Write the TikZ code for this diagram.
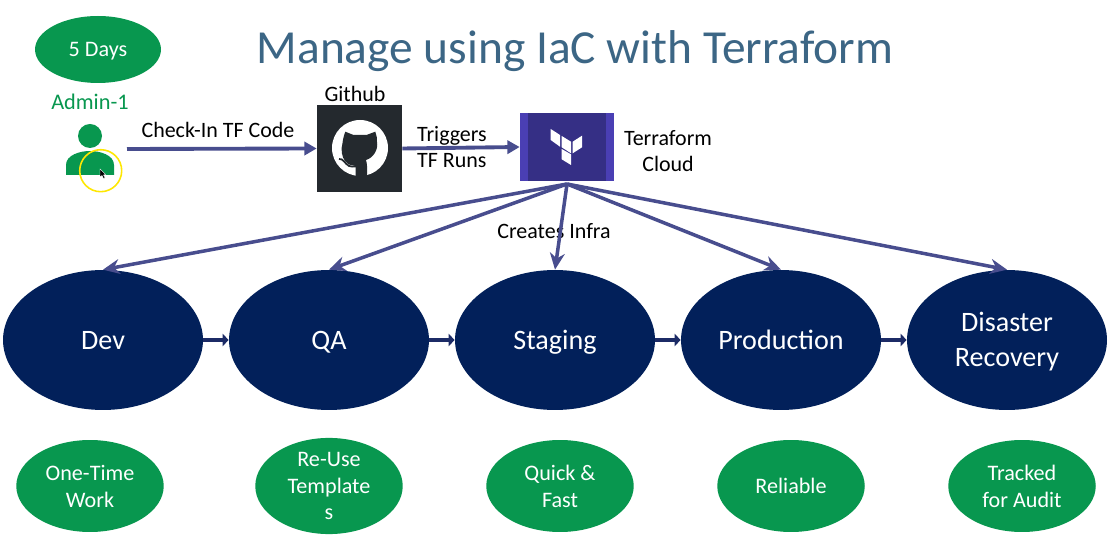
\documentclass[tikz,border=0pt]{standalone}
\usepackage{fontspec}
\setmainfont{Carlito}
\usepackage{xcolor}
\usetikzlibrary{arrows.meta,shapes.geometric}
\definecolor{envnavy}{HTML}{02205A}
\definecolor{notegreen}{HTML}{08974F}
\definecolor{flowblue}{HTML}{484D8E}
\definecolor{stepnavy}{HTML}{1C2B66}
\definecolor{titleblue}{HTML}{3C6685}
\definecolor{tfband}{HTML}{4A3FB4}
\definecolor{tfcore}{HTML}{352F85}
\definecolor{gitdark}{HTML}{24292E}
\tikzset{
  envnode/.style={ellipse,fill=envnavy,text=white,minimum width=4cm,minimum height=2.8cm,inner sep=0pt,align=center,text depth=0.8pt,font=\fontsize{16}{20.4}\selectfont},
  envone/.style={envnode,text height=14pt,text depth=2.8pt},
  notenode/.style={ellipse,fill=notegreen,text=white,minimum width=2.95cm,minimum height=1.84cm,inner sep=0pt,align=center,text depth=-1.2pt,font=\fontsize{12.6}{15.3}\selectfont},
  noteone/.style={notenode,text depth=0pt},
  lbl/.style={text=black,inner sep=0pt,align=center,font=\fontsize{12.5}{14.7}\selectfont},
  flowline/.style={flowblue,line width=2.2pt,-{Triangle[length=7pt,width=7.5pt]}},
  fanline/.style={flowblue,line width=2pt,-{Stealth[length=9.5pt,width=8.5pt]}},
  stepline/.style={stepnavy,line width=2.6pt,-{Triangle[length=3.5pt,width=7pt]}},
}
\begin{document}
\begin{tikzpicture}[x=0.02cm,y=-0.02cm]
    \useasboundingbox (0,0) rectangle (1111,546);
    \node[text=titleblue,inner sep=0pt,font=\fontsize{27}{30}\selectfont] (title) at (575,51) {Manage using IaC with Terraform};
    \node[noteone,minimum width=2.52cm,minimum height=1.34cm] (days) at (98,49.5) {5 Days};
    \node[lbl,text=notegreen,font=\fontsize{12.7}{15}\selectfont] (admin) at (90,102) {Admin-1};
    % person
    \fill[notegreen] (90,136) circle (12);
    \fill[notegreen] (66,175)--(66,165) .. controls (66,155) and (80,151) .. (90,151) .. controls (100,151) and (114,155) .. (114,165)--(114,175)--cycle;
    \draw[yellow!90!orange,line width=0.9pt] (100.7,170.7) circle (21);
    \fill[black,draw=white,line width=0.2pt] (100,169)--(100,177)--(102,175.5)--(103.5,178.5)--(105,178)--(103.5,175)--(105.5,174.5)--cycle;
    \coordinate (adminout) at (127,149);
    % github
    \node[fill=gitdark,minimum width=1.7cm,minimum height=1.74cm,inner sep=0pt] (github) at (359.5,148.5) {};
    \fill[white] (360,148) circle (28);
    \fill[gitdark] (345.3,131.7)--(353.5,135)--(366.5,135)--(375.3,131.7) .. controls (376.5,136) and (377.5,139) .. (377,142)
      .. controls (378.5,150) and (373,158) .. (366,160)
      .. controls (366.5,162) and (367,164) .. (367,166)--(367,176) .. controls (363,176.5) and (358,176.5) .. (355.5,176)
      --(355.5,166) .. controls (352,165) and (349,166) .. (345,161) .. controls (342,157) and (340.5,150) .. (342.5,143)
      .. controls (343,139) and (344,135) .. (345.3,131.7)--cycle;
    \draw[gitdark,line width=1pt] (339,159) .. controls (343,158) and (345,164) .. (349,166) .. controls (351,167) and (353,166.5) .. (356,166.5);
    \node[lbl] (gitlabel) at (355,94) {Github};
    % terraform cloud
    \node[fill=tfcore,draw=none,minimum width=1.88cm,minimum height=1.36cm,inner sep=0pt] (tfcloud) at (567,147) {};
    \fill[tfband] (520,113) rectangle (528,181);
    \fill[tfband] (606,113) rectangle (614,181);
    \fill[white] (550.7,129)--(560,135)--(560,146.7)--(550.7,140)--cycle;
    \fill[white] (561.7,136)--(571,141.7)--(571,153.3)--(561.7,147.3)--cycle;
    \fill[white] (572.7,141.7)--(582,135.7)--(582,147.3)--(572.7,153.3)--cycle;
    \fill[white] (561.7,149)--(571,154.3)--(571,165)--(561.7,159.3)--cycle;
    \node[lbl] (tflabel) at (668,151) {Terraform\\Cloud};
    \coordinate (tfout) at (567,184);
    % top row
    \node[lbl] (checkin) at (218,130) {Check-In TF Code};
    \draw[flowline] (adminout)--(github.west);
    \node[lbl,align=left] (triggers) at (452,147) {Triggers\\TF Runs};
    \draw[flowline] (github.east)--(tfcloud.west);
    \node[lbl] (creates) at (554,231) {Creates Infra};
    % environments
    \node[envone] (dev) at (103,340) {Dev};
    \node[envone] (qa) at (329,340) {QA};
    \node[envone] (staging) at (555,340) {Staging};
    \node[envone] (prod) at (781,340) {Production};
    \node[envnode] (dr) at (1007,340) {Disaster\\Recovery};
    \foreach \a/\b in {dev/qa,qa/staging,staging/prod,prod/dr}
      \draw[stepline] (\a.east)--(\b.west);
    \foreach \b in {dev,qa,staging,prod,dr}
      \draw[fanline] (tfout)--(\b.north);
    % notes
    \node[notenode] (onetime) at (90,486) {One-Time\\Work};
    \node[notenode] (reuse) at (329,486) {Re-Use\\Template\\s};
    \node[notenode] (quick) at (560,486) {Quick \&\\Fast};
    \node[noteone] (reliable) at (791,486) {Reliable};
    \node[notenode] (audit) at (1022,486) {Tracked\\for Audit};
  \end{tikzpicture}
\end{document}
